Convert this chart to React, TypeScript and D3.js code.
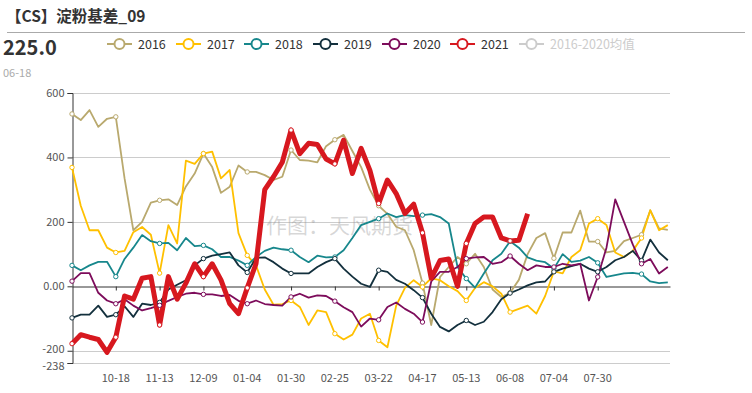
import { useEffect, useRef } from "react"
import * as d3 from "d3"

// one sample every 5.2 days, tick label every 5 samples
const xLabels = ["10-18", "11-13", "12-09", "01-04", "01-30", "02-25", "03-22", "04-17", "05-13", "06-08", "07-04", "07-30"]
const yTicks = [600, 400, 200, 0, -200, -238]

const s2016 = [535, 516, 547, 495, 520, 526, 335, 174, 200, 260, 267, 270, 252, 310, 350, 412, 370, 290, 309, 375, 355, 355, 345, 330, 340, 423, 392, 390, 385, 435, 455, 470, 420, 370, 300, 250, 225, 185, 174, 112, 10, -120, 29, 60, 91, 70, 101, 60, -10, -33, -20, 20, 100, 150, 165, 87, 167, 167, 235, 139, 139, 105, 110, 140, 150, 160, 236, 180, 175]
const s2017 = [369, 250, 174, 174, 120, 105, 110, 168, 184, 160, 41, 190, 133, 390, 380, 412, 418, 335, 361, 165, 96, 65, -10, -57, -55, -44, -64, -120, -75, -80, -147, -165, -150, -100, -85, -168, -189, -60, -5, 19, -2, 25, 19, 0, -15, -44, -5, 13, 0, -23, -80, -70, -60, -85, -30, 46, 40, 91, 112, 195, 210, 190, 105, 91, 110, 150, 236, 174, 190]
const s2018 = [65, 50, 65, 76, 76, 30, 85, 120, 159, 140, 133, 135, 112, 150, 125, 127, 115, 91, 91, 80, 65, 91, 110, 120, 115, 112, 91, 75, 95, 90, 91, 112, 150, 190, 200, 210, 226, 215, 221, 218, 221, 224, 215, 195, 60, 24, -4, 40, 81, 101, 140, 120, 90, 80, 75, 55, 100, 76, 80, 91, 73, 29, 35, 40, 42, 38, 15, 10, 12]
const s2019 = [-98, -88, -88, -60, -95, -88, -62, -95, -54, -58, -50, -10, 5, 19, 65, 86, 95, 100, 105, 65, 43, 88, 90, 75, 55, 40, 40, 40, 60, 75, 86, 55, 30, 8, -2, 50, 45, 20, 8, -12, -35, -85, -126, -140, -120, -106, -120, -110, -80, -40, -21, -10, 3, 12, 15, 45, 55, 63, 70, 55, 45, 60, 81, 91, 110, 80, 145, 105, 81]
const s2020 = [16, 41, 41, -20, -44, -54, -40, -60, -75, -68, -59, -45, -33, -23, -20, -25, -25, -30, -27, -45, -54, -44, -55, -58, -60, -33, -23, -35, -28, -30, -46, -65, -80, -125, -100, -104, -64, -50, -70, -85, -111, 15, 45, 45, 60, 86, 90, 91, 70, 75, 94, 70, 50, 65, 60, 60, 70, 65, 70, -44, 29, 120, 270, 200, 130, 70, 85, 40, 60]
const s2021 = [-178, -150, -158, -165, -205, -158, -30, -40, 25, 30, -120, 30, -40, 10, 70, 30, 70, 20, -54, -85, -5, 70, 300, 340, 385, 485, 412, 444, 440, 395, 380, 454, 350, 428, 360, 257, 330, 288, 226, 255, 166, 25, 80, 85, 0, 133, 195, 215, 215, 150, 141, 143, 225]

const seriesNames = ["2016", "2017", "2018", "2019", "2020", "2021"]
const seriesValues = [s2016, s2017, s2018, s2019, s2020, s2021]
const colors = ["#b9a96e", "#ffc000", "#17878c", "#13303d", "#7d0c5b", "#d7181f"]

const font = "'Noto Sans CJK SC', 'Noto Sans', sans-serif"

export default function App() {
  const svgRef = useRef<SVGSVGElement>(null)

  useEffect(() => {
    if (!svgRef.current) return
    const svg = d3.select(svgRef.current)
    svg.selectAll("*").remove()

    const width = 752
    const height = 393
    svg.attr("width", width).attr("height", height)

    const x = d3.scaleLinear().domain([0, 68.25]).range([72, 670])
    const y = d3.scaleLinear().domain([-238, 600]).range([363, 93])

    // header
    svg.append("text").attr("x", 6).attr("y", 22).text("【CS】淀粉基差_09")
      .style("font-family", font).style("font-size", "15.5px").style("font-weight", "bold").style("fill", "#333")
    svg.append("line").attr("x1", 7).attr("x2", 745).attr("y1", 32.5).attr("y2", 32.5)
      .style("stroke", "#aaa").style("stroke-width", 1)
    svg.append("text").attr("x", 3).attr("y", 55).text("225.0")
      .style("font-family", font).style("font-size", "20px").style("font-weight", "bold").style("fill", "#333")
    svg.append("text").attr("x", 3).attr("y", 77).text("06-18")
      .style("font-family", font).style("font-size", "11px").style("fill", "#aaa")

    // legend
    const legendItems = [
      ...seriesNames.map((n, i) => ({ name: n, color: colors[i], off: false })),
      { name: "2016-2020均值", color: "#ccc", off: true },
    ]
    const legendX = [107, 176, 244, 313, 382, 450, 519]
    legendItems.forEach((d, i) => {
      const g = svg.append("g").attr("transform", `translate(${legendX[i]},44)`)
      g.append("line").attr("x1", 0).attr("x2", 25).attr("y1", 0).attr("y2", 0)
        .style("stroke", d.color).style("stroke-width", 2)
      g.append("circle").attr("cx", 12.5).attr("cy", 0).attr("r", 5)
        .style("fill", "#fff").style("stroke", d.color).style("stroke-width", 2)
      g.append("text").attr("x", 31).attr("y", 4.5).text(d.name)
        .style("font-family", font).style("font-size", "12.5px").style("fill", d.off ? "#ccc" : "#333")
    })

    // grid
    svg.append("g").selectAll("line").data([600, 400, 200, -200, -238]).enter().append("line")
      .attr("x1", 72).attr("x2", 670)
      .attr("y1", (d) => Math.round(y(d)) + 0.5).attr("y2", (d) => Math.round(y(d)) + 0.5)
      .style("stroke", "#ccc").style("stroke-width", 1)

    // watermark
    svg.append("text").attr("x", 266).attr("y", 233).text("作图：天风期货")
      .style("font-family", font).style("font-size", "21px").style("fill", "rgba(140,140,140,0.35)")

    // y axis
    const yAxis = svg.append("g").attr("transform", "translate(72.5,0)")
      .call(d3.axisLeft(y).tickValues(yTicks).tickSize(5).tickFormat((d) => (+d === 0 ? "0.00" : String(d))))
    yAxis.select(".domain").style("stroke", "#333")
    yAxis.selectAll(".tick line").style("stroke", "#333")
    yAxis.selectAll("text").style("font-family", font).style("font-size", "11px").style("fill", "#555")
      .attr("dy", (d) => (+d === -238 ? "0.62em" : +d === -200 ? "0.2em" : "0.32em"))

    // x axis on the zero line
    const xTickVals = xLabels.map((_, i) => (i + 1) * 5)
    const xAxis = svg.append("g").attr("transform", `translate(0,${Math.round(y(0)) + 0.5})`)
      .call(d3.axisBottom(x).tickValues(xTickVals).tickSize(4).tickSizeOuter(0).tickFormat(() => ""))
    xAxis.select(".domain").style("stroke", "#333")
    xAxis.selectAll(".tick line").style("stroke", "#333")

    svg.append("g").selectAll("text").data(xTickVals).enter().append("text")
      .attr("x", (d) => x(d)).attr("y", 382).attr("text-anchor", "middle")
      .text((_, i) => xLabels[i])
      .style("font-family", font).style("font-size", "11px").style("fill", "#555")

    // lines
    const line = d3.line<number>().x((_, i) => x(i)).y((d) => y(d))
    seriesValues.forEach((vals, k) => {
      const isLast = k === seriesValues.length - 1
      svg.append("path").datum(vals).attr("d", line)
        .style("fill", "none").style("stroke", colors[k])
        .style("stroke-width", isLast ? 5 : 1.8).style("stroke-linejoin", "round")
    })
    seriesValues.forEach((vals, k) => {
      const pts = vals.map((v, i) => ({ v, i })).filter((d) => d.i % 5 === 0)
      svg.append("g").selectAll("circle").data(pts).enter().append("circle")
        .attr("cx", (d) => x(d.i)).attr("cy", (d) => y(d.v)).attr("r", 2.2)
        .style("fill", "#fff").style("stroke", colors[k]).style("stroke-width", 1)
    })
  }, [])

  return <svg ref={svgRef} style={{ position: "absolute", left: 0, top: 0 }}></svg>
}
